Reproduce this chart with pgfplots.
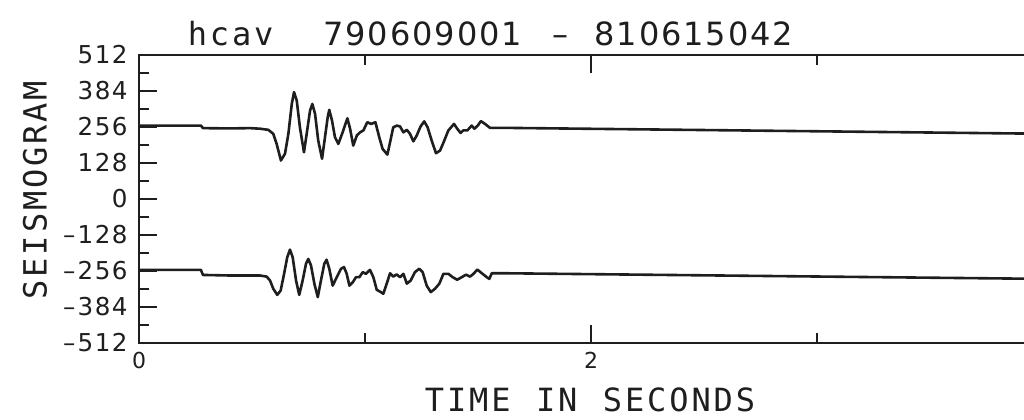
\documentclass[border=0pt]{standalone}
\usepackage{fontspec}
\usepackage{pgfplots}
\pgfplotsset{compat=1.18}
\newfontfamily\monofont[LetterSpace=9, WordSpace={1.15,0,0}]{DejaVu Sans Mono}
\newfontfamily\digfont[LetterSpace=6]{DejaVu Sans}
\definecolor{ink}{HTML}{1E1E1E}
\newcommand\mn{\makebox[0.69em][c]{\textendash}}
\newlength\cell \setlength\cell{11.3bp}

% upper trace (station hcav, event 790609001)
\pgfplotstableread{
t v
0.000 261
0.274 261
0.283 252
0.403 251
0.491 252
0.535 250
0.572 246
0.594 232
0.609 196
0.628 137
0.646 161
0.661 232
0.676 338
0.686 380
0.698 350
0.712 255
0.730 166
0.742 232
0.757 315
0.767 338
0.779 303
0.793 208
0.810 143
0.823 220
0.835 291
0.842 317
0.854 279
0.867 220
0.882 196
0.901 237
0.922 287
0.934 250
0.948 190
0.964 226
0.978 237
0.993 244
1.010 273
1.027 267
1.046 273
1.063 220
1.078 178
1.099 158
1.111 202
1.125 255
1.141 261
1.155 258
1.170 237
1.185 246
1.199 232
1.214 205
1.229 226
1.246 258
1.262 276
1.277 255
1.295 208
1.314 163
1.332 172
1.351 208
1.369 244
1.394 267
1.408 250
1.423 235
1.435 244
1.453 244
1.472 261
1.484 250
1.499 261
1.513 277
1.531 267
1.553 253
1.619 253
4.000 232
}\traceA

% lower trace (event 810615042)
\pgfplotstableread{
t v
0.000 -252
0.274 -252
0.283 -270
0.403 -272
0.535 -272
0.565 -276
0.580 -290
0.594 -319
0.612 -341
0.627 -325
0.642 -266
0.656 -207
0.668 -180
0.680 -207
0.695 -290
0.709 -341
0.724 -290
0.739 -230
0.749 -213
0.761 -236
0.776 -301
0.791 -349
0.805 -290
0.820 -230
0.830 -216
0.842 -248
0.857 -308
0.875 -278
0.894 -248
0.907 -242
0.919 -266
0.931 -308
0.946 -296
0.960 -278
0.975 -278
0.990 -260
1.004 -266
1.022 -252
1.037 -278
1.052 -323
1.070 -331
1.081 -337
1.096 -301
1.111 -264
1.125 -276
1.140 -268
1.155 -278
1.170 -266
1.185 -301
1.202 -290
1.221 -260
1.240 -248
1.255 -260
1.273 -308
1.291 -331
1.310 -319
1.329 -301
1.347 -266
1.369 -266
1.388 -278
1.408 -287
1.428 -278
1.447 -269
1.465 -276
1.480 -266
1.497 -251
1.517 -264
1.539 -278
1.550 -284
1.561 -264
1.619 -264
4.000 -284
}\traceB

\begin{document}
\begin{tikzpicture}
\begin{axis}[
    scale only axis,
    width=452bp, height=144bp,
    xmin=0, xmax=4,
    ymin=-512, ymax=512,
    axis line style={ink, line width=1bp},
    every tick/.style={ink, line width=0.9bp},
    major tick length=9bp,
    minor tick length=5bp,
    xtick={0,2},
    xticklabels={0,2},
    minor xtick={1,3},
    ytick={-512,-384,...,512},
    yticklabels={\mn512,\mn384,\mn256,\mn128,0,128,256,384,512},
    minor y tick num=1,
    ytick pos=left,
    xticklabel style={font=\digfont\fontsize{11bp}{11bp}\selectfont,
        inner sep=0pt, anchor=north, yshift=-4.5bp, text=ink},
    yticklabel style={font=\digfont\fontsize{12.3bp}{12.3bp}\selectfont,
        inner sep=0pt, anchor=east, xshift=-5.5bp, text=ink},
    every axis title shift=0pt,
    title={\makebox[6\cell][l]{\monofont hcav}%
        \makebox[10\cell][l]{790609001}%
        \makebox[2\cell][l]{\makebox[\cell][c]{\textendash}}%
        810615042},
    title style={font=\digfont\fontsize{16bp}{16bp}\selectfont,
        at={(axis description cs:0.3888,1.0347)}, anchor=base, yshift=0pt,
        inner sep=0pt, text=ink},
    xlabel={TIME IN SECONDS},
    xlabel style={font=\monofont\fontsize{16bp}{16bp}\selectfont,
        at={(axis description cs:0.4989,-0.198)}, anchor=center,
        inner sep=0pt, text=ink},
    ylabel={SEISMOGRAM},
    ylabel style={font=\monofont\fontsize{16bp}{16bp}\selectfont,
        at={(axis description cs:-0.115,0.531)}, anchor=center,
        inner sep=0pt, text=ink},
]
\addplot[ink, line width=1.3bp, line join=round, no markers] table[x=t, y=v] {\traceA};
\addplot[ink, line width=1.3bp, line join=round, no markers] table[x=t, y=v] {\traceB};
\end{axis}
\pgfresetboundingbox
\useasboundingbox (-69.5bp,-38.5bp) rectangle (442.5bp,171.5bp);
\end{tikzpicture}
\end{document}
